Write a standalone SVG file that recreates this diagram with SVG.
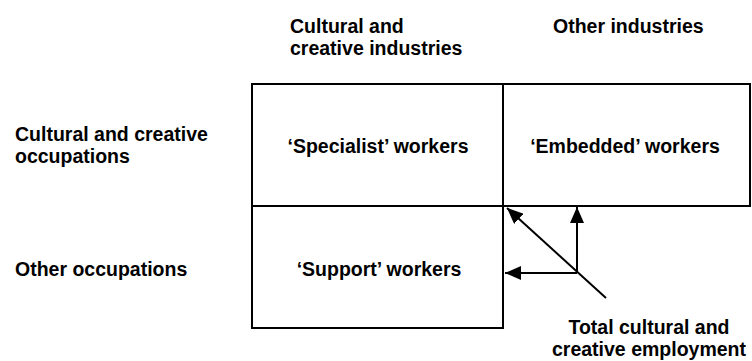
<svg xmlns="http://www.w3.org/2000/svg" width="752" height="361" viewBox="0 0 752 361">
<defs>
<style>
text{font-family:"Liberation Sans",Arial,sans-serif;font-weight:bold;font-size:19.5px;fill:#000}
.c{text-anchor:middle}
.box{fill:#fff;stroke:#000;stroke-width:2}
.ln{stroke:#000;stroke-width:2;fill:none}
</style>
<marker id="ah" viewBox="0 0 16 14" refX="16" refY="7" markerWidth="16" markerHeight="14" markerUnits="userSpaceOnUse" orient="auto">
<path d="M0,0 L16,7 L0,14 Z" fill="#000"/>
</marker>
</defs>
<rect width="752" height="361" fill="#fff"/>
<g id="col-headers">
<text x="290" y="33">Cultural and</text>
<text x="290" y="55">creative industries</text>
<text x="553" y="33">Other industries</text>
</g>
<g id="row-headers">
<text x="15" y="141">Cultural and creative</text>
<text x="15" y="163">occupations</text>
<text x="15" y="276">Other occupations</text>
</g>
<g id="specialist">
<rect class="box" x="252" y="84" width="251" height="122"/>
<text class="c" x="378" y="153">‘Specialist’ workers</text>
</g>
<g id="embedded">
<rect class="box" x="503" y="84" width="247" height="122"/>
<text class="c" x="625" y="153">‘Embedded’ workers</text>
</g>
<g id="support">
<rect class="box" x="252" y="206" width="251" height="122"/>
<text class="c" x="379" y="276">‘Support’ workers</text>
</g>
<g id="total">
<text class="c" x="649" y="334">Total cultural and</text>
<text class="c" x="649" y="356">creative employment</text>
</g>
<g id="connectors">
<line class="ln" x1="577" y1="273" x2="577" y2="207" marker-end="url(#ah)"/>
<line class="ln" x1="577" y1="273" x2="505" y2="273" marker-end="url(#ah)"/>
<line class="ln" x1="606" y1="298" x2="507" y2="208" marker-end="url(#ah)"/>
</g>
</svg>
